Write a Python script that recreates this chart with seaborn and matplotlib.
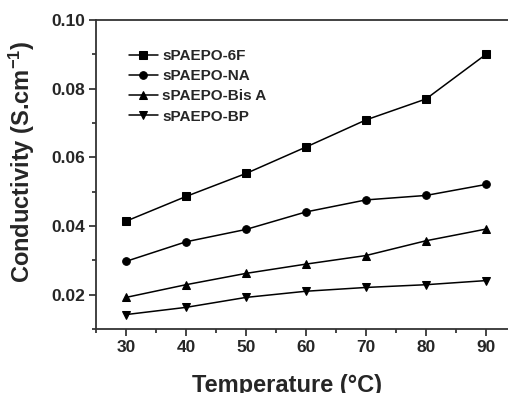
import numpy as np
import pandas as pd
import matplotlib
matplotlib.use("Agg")
import matplotlib.pyplot as plt
import seaborn as sns
from matplotlib.ticker import MultipleLocator

# data
temperature = [30, 40, 50, 60, 70, 80, 90]
cond_6f = [0.0414, 0.0486, 0.0553, 0.0630, 0.0709, 0.0770, 0.0900]
cond_na = [0.0297, 0.0354, 0.0390, 0.0441, 0.0476, 0.0489, 0.0521]
cond_bisa = [0.0192, 0.0229, 0.0262, 0.0289, 0.0314, 0.0357, 0.0391]
cond_bp = [0.0142, 0.0163, 0.0192, 0.0210, 0.0221, 0.0229, 0.0241]
series_names = ['sPAEPO-6F', 'sPAEPO-NA', 'sPAEPO-Bis A', 'sPAEPO-BP']

rows = []
for name, vals in zip(series_names, [cond_6f, cond_na, cond_bisa, cond_bp]):
    for t, v in zip(temperature, vals):
        rows.append({'Temperature': t, 'Conductivity': v, 'Polymer': name})
df = pd.DataFrame(rows)

sns.set_style('ticks')
plt.rcParams['font.family'] = ['Liberation Sans', 'DejaVu Sans']
plt.rcParams['font.weight'] = 'bold'
plt.rcParams['mathtext.fontset'] = 'custom'
plt.rcParams['mathtext.bf'] = 'Liberation Sans:bold'
plt.rcParams['mathtext.rm'] = 'Liberation Sans:bold'
plt.rcParams['mathtext.default'] = 'bf'

fig = plt.figure(figsize=(5.08, 3.93), dpi=100)
ax = fig.add_axes([96 / 508, 64 / 393, 420 / 508, 309 / 393])

sns.lineplot(data=df, x='Temperature', y='Conductivity', hue='Polymer', style='Polymer',
             palette=['black'] * 4, markers=['s', 'o', '^', 'v'], dashes=False,
             markersize=5.5, markeredgecolor='black', linewidth=1.1, ax=ax)

ax.set_xlim(25, 95)
ax.set_ylim(0.01, 0.10)
ax.xaxis.set_major_locator(MultipleLocator(10))
ax.xaxis.set_minor_locator(MultipleLocator(5))
ax.yaxis.set_minor_locator(MultipleLocator(0.01))
ax.set_yticks([0.02, 0.04, 0.06, 0.08, 0.10])
ax.set_yticklabels(['0.02', '0.04', '0.06', '0.08', '0.10'])
ax.tick_params(axis='both', which='major', direction='out', length=5, width=1.2,
               labelsize=12.5, pad=3)
ax.tick_params(axis='both', which='minor', direction='out', length=3, width=1.2)
for lab in ax.get_xticklabels() + ax.get_yticklabels():
    lab.set_fontweight('bold')
for sp in ax.spines.values():
    sp.set_linewidth(1.3)
    sp.set_color('#333333')

ax.set_xlabel('Temperature (°C)', fontsize=17, fontweight='bold')
ax.set_ylabel('Conductivity (S.cm$^{-1}$)', fontsize=17, fontweight='bold')
ax.xaxis.set_label_coords(0.455, -0.145)
ax.yaxis.set_label_coords(-0.14, 0.54)

leg = ax.legend(loc='upper left', bbox_to_anchor=(0.045, 0.95), frameon=False,
                handlelength=1.9, handletextpad=0.3, labelspacing=0.4,
                prop={'weight': 'bold', 'size': 11})

fig.savefig('out.png', dpi=100)
